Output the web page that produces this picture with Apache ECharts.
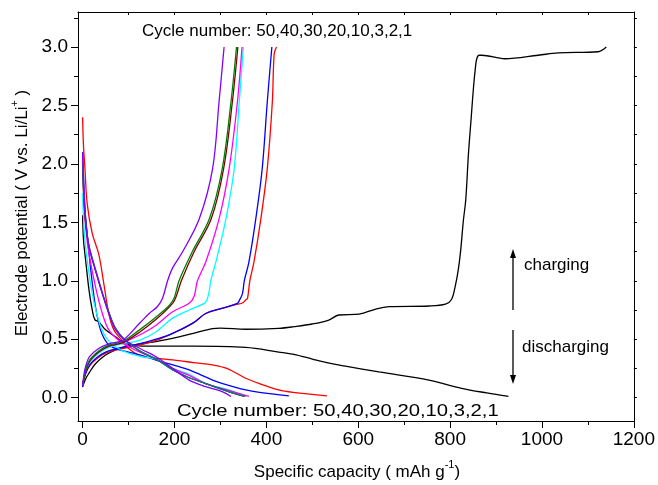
<!DOCTYPE html>
<html>
<head>
<meta charset="utf-8">
<script src="https://cdn.jsdelivr.net/npm/echarts@6/dist/echarts.min.js"></script>
<style>html,body{margin:0;padding:0;background:#fff}#chart{width:658px;height:485px}</style>
</head>
<body>
<div id="chart"></div>
<script>
// ---- tick values ----
const xMajorTicks = [0, 200, 400, 600, 800, 1000, 1200];
const xMinorTicks = [100, 300, 500, 700, 900, 1100];
const xTopTicks = [100, 200, 300, 400, 500, 600, 700, 800, 900, 1000, 1100];
const yMajorTicks = [0, 0.5, 1.0, 1.5, 2.0, 2.5, 3.0];
const yMinorTicks = [0.25, 0.75, 1.25, 1.75, 2.25, 2.75, 3.25];
const yRightTicks = [0, 0.25, 0.5, 0.75, 1.0, 1.25, 1.5, 1.75, 2.0, 2.25, 2.5, 2.75, 3.0, 3.25];

// ---- data: [specific capacity (mAh/g), potential (V)] ----
const cycle1Discharge = [[0,1.56],[2,1.35],[6.5,1.18],[14,0.92],[21,0.75],[27,0.665],[35,0.65],[50,0.58],[72,0.52],[93,0.465],[130,0.44],[180,0.44],[241,0.44],[355,0.43],[427,0.39],[460,0.37],[500,0.33],[537,0.295],[572,0.27],[645,0.22],[754,0.15],[825,0.08],[880,0.04],[927,0.01]];
const cycle1Charge = [[0,0.09],[6.5,0.16],[14,0.21],[28,0.29],[50,0.365],[72,0.41],[87,0.43],[124,0.46],[160,0.48],[210,0.52],[241,0.55],[283,0.59],[300,0.595],[355,0.585],[427,0.593],[460,0.607],[500,0.63],[536,0.664],[558,0.707],[602,0.715],[640,0.76],[667,0.778],[754,0.784],[790,0.80],[803,0.84],[811,0.95],[818,1.1],[823,1.26],[829,1.52],[834,1.69],[840,2.09],[846,2.4],[851,2.66],[855,2.82],[858,2.90],[863,2.93],[869,2.93],[919,2.90],[992,2.93],[1035,2.95],[1122,2.96],[1140,3.0]];
const cycle2Discharge = [[0,2.40],[2,2.15],[5,1.97],[10,1.66],[21,1.405],[35,1.23],[46,0.98],[57,0.72],[68,0.58],[86,0.49],[100,0.42],[130,0.35],[160,0.337],[210,0.316],[241,0.30],[283,0.28],[314,0.25],[355,0.166],[385,0.12],[427,0.066],[458,0.045],[532,0.015]];
const cycle2Charge = [[0,0.1],[6,0.2],[15,0.27],[30,0.33],[50,0.38],[87,0.42],[124,0.45],[160,0.49],[196,0.55],[241,0.64],[268,0.72],[303,0.764],[337,0.80],[348,0.81],[355,0.835],[359,0.85],[364,1.0],[373,1.16],[388,1.53],[402,1.96],[413,2.53],[417,2.94],[422,3.0]];
const cycle3Discharge = [[0,2.10],[3,1.8],[6.5,1.55],[17,1.12],[28,0.78],[39,0.58],[54,0.465],[72,0.42],[100,0.39],[130,0.36],[160,0.32],[210,0.265],[232,0.237],[283,0.15],[305,0.12],[355,0.066],[385,0.045],[449,0.015]];
const cycle3Charge = [[0,0.1],[6,0.2],[15,0.28],[30,0.34],[50,0.39],[87,0.43],[124,0.46],[160,0.50],[196,0.55],[241,0.64],[268,0.72],[303,0.764],[337,0.807],[341,0.83],[348,0.89],[352,1.0],[362,1.16],[377,1.53],[391,1.96],[402,2.53],[412,3.0]];
const cycle10Discharge = [[0,1.75],[4,1.4],[10,1.18],[21,0.89],[35,0.66],[50,0.52],[72,0.436],[100,0.38],[130,0.35],[160,0.33],[196,0.25],[232,0.2],[268,0.12],[319,0.066],[350,0.015]];
const cycle10Charge = [[0,0.1],[6,0.22],[15,0.3],[35,0.38],[57,0.43],[87,0.46],[124,0.49],[160,0.564],[196,0.68],[232,0.75],[265,0.807],[271,0.84],[276,0.92],[279,1.0],[290,1.16],[312,1.53],[330,1.96],[341,2.53],[350,3.0]];
const cycle20Discharge = [[0,2.05],[3,1.7],[7,1.45],[14,1.23],[28,0.95],[43,0.72],[57,0.58],[79,0.49],[108,0.42],[130,0.38],[160,0.33],[196,0.25],[232,0.19],[268,0.12],[319,0.06],[362,0.01]];
const cycle20Charge = [[0,0.1],[6,0.23],[15,0.31],[35,0.39],[57,0.44],[87,0.47],[124,0.536],[160,0.62],[196,0.735],[232,0.807],[243,0.87],[250,1.0],[268,1.16],[297,1.53],[319,1.96],[337,2.53],[347,3.0]];
const cycle30Discharge = [[0,1.95],[3,1.68],[7,1.48],[14,1.29],[28,1.09],[43,0.89],[57,0.73],[72,0.59],[93,0.49],[124,0.40],[160,0.33],[196,0.24],[232,0.17],[268,0.12],[319,0.05],[352,0.01]];
const cycle30Charge = [[0,0.1],[6,0.21],[15,0.31],[35,0.39],[57,0.44],[87,0.47],[124,0.56],[160,0.67],[196,0.807],[205,0.88],[215,1.0],[243,1.25],[280,1.53],[307,1.96],[326,2.53],[338,3.0]];
const cycle40Discharge = [[0,2.0],[3,1.7],[7,1.5],[14,1.3],[28,1.1],[43,0.9],[57,0.73],[72,0.59],[93,0.49],[124,0.40],[160,0.33],[196,0.237],[232,0.17],[268,0.12],[319,0.05],[355,0.01]];
const cycle40Charge = [[0,0.1],[6,0.22],[15,0.32],[35,0.4],[57,0.45],[87,0.48],[124,0.58],[160,0.69],[189,0.79],[200,0.86],[210,1.0],[239,1.25],[276,1.53],[304,1.96],[323,2.53],[335,3.0]];
const cycle50Discharge = [[0,2.10],[3,1.75],[7,1.5],[14,1.29],[28,1.09],[43,0.89],[57,0.72],[72,0.58],[93,0.49],[130,0.41],[160,0.35],[196,0.25],[232,0.15],[268,0.094],[305,0.05],[323,0.01]];
const cycle50Charge = [[0,0.1],[3,0.2],[6.5,0.265],[15,0.35],[35,0.42],[57,0.46],[87,0.49],[124,0.636],[145,0.72],[163,0.78],[174,0.85],[185,1.0],[196,1.11],[218,1.25],[254,1.53],[283,1.96],[297,2.53],[308,3.0]];

const curveList = [
  ['Cycle 1 discharge', cycle1Discharge, '#000000'],
  ['Cycle 1 charge', cycle1Charge, '#000000'],
  ['Cycle 2 discharge', cycle2Discharge, '#ff0000'],
  ['Cycle 2 charge', cycle2Charge, '#ff0000'],
  ['Cycle 3 discharge', cycle3Discharge, '#0000ff'],
  ['Cycle 3 charge', cycle3Charge, '#0000ff'],
  ['Cycle 10 discharge', cycle10Discharge, '#00ffff'],
  ['Cycle 10 charge', cycle10Charge, '#00ffff'],
  ['Cycle 20 discharge', cycle20Discharge, '#ff00ff'],
  ['Cycle 20 charge', cycle20Charge, '#ff00ff'],
  ['Cycle 30 discharge', cycle30Discharge, '#800000'],
  ['Cycle 30 charge', cycle30Charge, '#800000'],
  ['Cycle 40 discharge', cycle40Discharge, '#008080'],
  ['Cycle 40 charge', cycle40Charge, '#008000'],
  ['Cycle 50 discharge', cycle50Discharge, '#8000ff'],
  ['Cycle 50 charge', cycle50Charge, '#8000ff']
];

const FONT = "'Liberation Sans', Arial, Helvetica, sans-serif";
const X_MIN = -10, X_MAX = 1200, Y_MIN = -0.2, Y_MAX = 3.3;

const chart = echarts.init(document.getElementById('chart'), null, {renderer: 'canvas'});
const blackLine = {show: true, onZero: false, lineStyle: {color: '#000', width: 1}};
const noLine = {show: false, onZero: false};
const tickStyle = {color: '#000', width: 1};

const baseX = {type: 'value', min: X_MIN, max: X_MAX, gridIndex: 0, splitLine: {show: false}};
const baseY = {type: 'value', min: Y_MIN, max: Y_MAX, gridIndex: 0, splitLine: {show: false}};

const option = {
  animation: false,
  backgroundColor: '#fff',
  grid: {left: 78, right: 22, top: 12, bottom: 64, containLabel: false},
  xAxis: [
    Object.assign({}, baseX, {position: 'bottom', axisLine: blackLine,
      axisTick: {show: true, inside: false, length: 7, customValues: xMajorTicks, lineStyle: tickStyle},
      axisLabel: {show: true, customValues: xMajorTicks, fontSize: 19, color: '#000', fontFamily: FONT, margin: 9,
        formatter: v => String(v)}}),
    Object.assign({}, baseX, {position: 'bottom', axisLine: noLine,
      axisTick: {show: true, inside: false, length: 4, customValues: xMinorTicks, lineStyle: tickStyle},
      axisLabel: {show: false}}),
    Object.assign({}, baseX, {position: 'top', axisLine: blackLine,
      axisTick: {show: true, inside: true, length: 3, customValues: xTopTicks, lineStyle: tickStyle},
      axisLabel: {show: false}})
  ],
  yAxis: [
    Object.assign({}, baseY, {position: 'left', axisLine: blackLine,
      axisTick: {show: true, inside: false, length: 7, customValues: yMajorTicks, lineStyle: tickStyle},
      axisLabel: {show: true, customValues: yMajorTicks, fontSize: 19, color: '#000', fontFamily: FONT, margin: 10,
        formatter: v => Number(v).toFixed(1)}}),
    Object.assign({}, baseY, {position: 'left', axisLine: noLine,
      axisTick: {show: true, inside: false, length: 4, customValues: yMinorTicks, lineStyle: tickStyle},
      axisLabel: {show: false}}),
    Object.assign({}, baseY, {position: 'right', axisLine: blackLine,
      axisTick: {show: true, inside: false, length: 3, customValues: yRightTicks, lineStyle: tickStyle},
      axisLabel: {show: false}})
  ],
  series: curveList.map(([name, data, color]) => ({
    name: name, type: 'line', xAxisIndex: 0, yAxisIndex: 0, data: data,
    showSymbol: false, symbol: 'none', smooth: 0.35,
    lineStyle: {color: color, width: 1.3}, itemStyle: {color: color},
    clip: true, silent: true
  })),
  graphic: [
    {type: 'text', x: 357, y: 470, style: {
      text: '{a|Specific capacity ( mAh g}{b|-1}{a|)}', align: 'center', verticalAlign: 'middle',
      rich: {a: {fontSize: 17, fontFamily: FONT, fill: '#000', lineHeight: 22, verticalAlign: 'bottom'},
             b: {fontSize: 11, fontFamily: FONT, fill: '#000', lineHeight: 22, verticalAlign: 'top'}}}},
    {type: 'text', x: 20, y: 213, rotation: Math.PI / 2, style: {
      text: '{a|Electrode potential ( V vs. Li/Li}{b|+}{a| )}', align: 'center', verticalAlign: 'middle',
      rich: {a: {fontSize: 17, fontFamily: FONT, fill: '#000', lineHeight: 22, verticalAlign: 'bottom'},
             b: {fontSize: 11, fontFamily: FONT, fill: '#000', lineHeight: 22, verticalAlign: 'top'}}}},
    {type: 'text', x: 142, y: 31, style: {text: 'Cycle number: 50,40,30,20,10,3,2,1', fontSize: 17, fontFamily: FONT, fill: '#000', align: 'left', verticalAlign: 'middle'}},
    {type: 'text', x: 177, y: 411, scaleX: 1.19, style: {text: 'Cycle number: 50,40,30,20,10,3,2,1', fontSize: 17, fontFamily: FONT, fill: '#000', align: 'left', verticalAlign: 'middle'}},
    {type: 'text', x: 524, y: 265, style: {text: 'charging', fontSize: 17, fontFamily: FONT, fill: '#000', align: 'left', verticalAlign: 'middle'}},
    {type: 'text', x: 522, y: 347, style: {text: 'discharging', fontSize: 17, fontFamily: FONT, fill: '#000', align: 'left', verticalAlign: 'middle'}},
    {type: 'line', shape: {x1: 513, y1: 310, x2: 513, y2: 256}, style: {stroke: '#000', lineWidth: 1.3}},
    {type: 'polygon', shape: {points: [[513, 249], [510, 258], [516, 258]]}, style: {fill: '#000'}},
    {type: 'line', shape: {x1: 513, y1: 330, x2: 513, y2: 377}, style: {stroke: '#000', lineWidth: 1.3}},
    {type: 'polygon', shape: {points: [[513, 384], [510, 375], [516, 375]]}, style: {fill: '#000'}}
  ]
};
chart.setOption(option);
</script>
</body>
</html>
